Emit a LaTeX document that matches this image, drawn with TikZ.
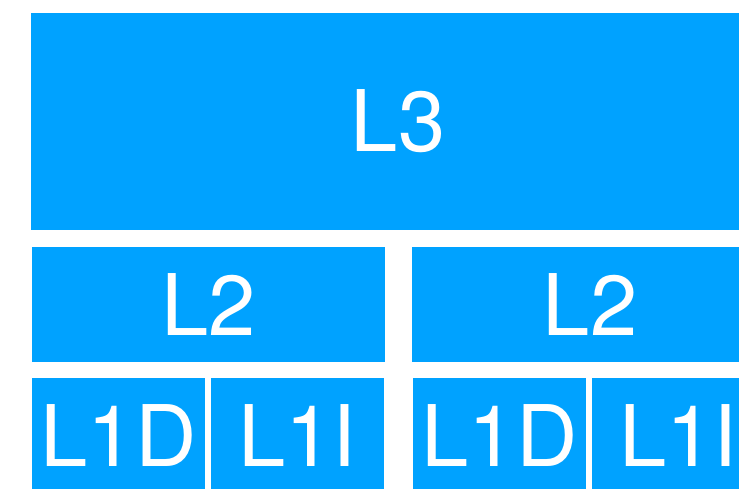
\documentclass[tikz,border=0pt]{standalone}
\usepackage{fontspec}
\setmainfont{TeX Gyre Heros}
\usetikzlibrary{positioning}
\definecolor{cacheblue}{RGB}{0,162,255}

\begin{document}
\begin{tikzpicture}[
    x=1pt, y=-1pt,
    every node/.style={fill=cacheblue, text=white, inner sep=0pt,
        font=\fontsize{85}{85}\selectfont},
    level3/.style={minimum width=734pt, minimum height=217pt},
    level2/.style={minimum width=355pt, minimum height=115pt},
    level1/.style={minimum width=173pt, minimum height=115pt},
]
\useasboundingbox (0,0) rectangle (739,488);
\clip (0,0) rectangle (739,488);

\node[level3] (l3) at (398,121.5) {L3};

% left core
\node[level2, minimum width=353pt] (l2a) at (208.5,304.5) {L2};
\node[level1] (l1da) at (118.5,435.5) {L1D};
\node[level1] (l1ia) at (297.5,435.5) {L1I};

% right core
\node[level2, minimum width=356pt] (l2b) at (590,304.5) {L2};
\node[level1] (l1db) at (499.5,435.5) {L1D};
\node[level1] (l1ib) at (678.5,435.5) {L1I};

\end{tikzpicture}
\end{document}
